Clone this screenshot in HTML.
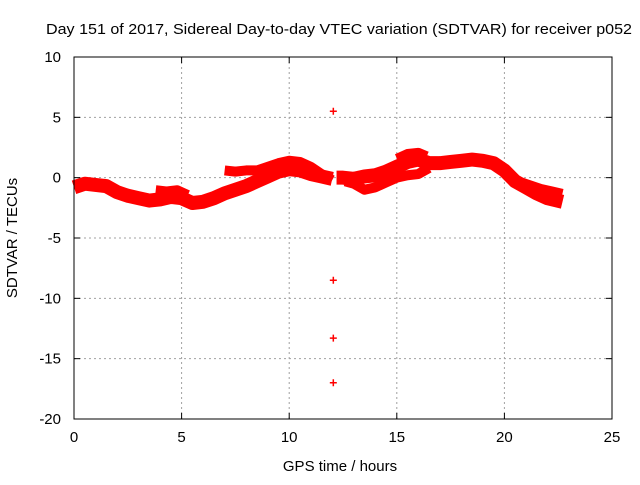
<!DOCTYPE html>
<html><head><meta charset="utf-8"><style>
html,body{margin:0;padding:0;background:#fff;}
svg text{font-family:"Liberation Sans",sans-serif;font-size:15px;fill:#000;}
</style></head><body>
<svg id="chart" width="640" height="480" xmlns="http://www.w3.org/2000/svg">
<text x="339" y="34" text-anchor="middle" textLength="586" lengthAdjust="spacingAndGlyphs">Day 151 of 2017, Sidereal Day-to-day VTEC variation (SDTVAR) for receiver p052</text>
<text x="340" y="471" text-anchor="middle">GPS time / hours</text>
<text transform="translate(17,238) rotate(-90)" text-anchor="middle">SDTVAR / TECUs</text>
<g id="grid"></g>
<g id="marks"></g>
<g id="axes"></g>
</svg>
<script>
const xTicks=[0,5,10,15,20,25];
const yTicks=[10,5,0,-5,-10,-15,-20];
const trackAHours=[0,0.5,1,1.5,2,2.5,3,3.5,4,4.5,5,5.5,6,6.5,7,7.5,8,8.5,9,9.5,10,10.5,11,11.5,12];
const trackAValues=[-0.8,-0.5,-0.6,-0.7,-1.2,-1.5,-1.7,-1.9,-1.8,-1.6,-1.7,-2.1,-2.0,-1.7,-1.3,-1.0,-0.7,-0.3,0.1,0.5,0.7,0.6,0.3,0.1,-0.1];
const trackBHours=[7,7.5,8,8.5,9,9.5,10,10.5,11,11.5,12];
const trackBValues=[0.6,0.5,0.6,0.6,0.9,1.2,1.4,1.3,0.9,0.3,-0.2];
const trackCHours=[3.8,4.3,4.8,5.3];
const trackCValues=[-1.0,-1.1,-1.0,-1.4];
const trackDHours=[12.2,12.5,13,13.5,14,14.5,15,15.5,16,16.5,17,17.5,18,18.5,19,19.5,20,20.5,21,21.5,22,22.7];
const trackDValues=[0.0,0.0,-0.1,0.1,0.2,0.5,0.9,1.3,1.5,1.2,1.2,1.3,1.4,1.5,1.4,1.2,0.6,-0.3,-0.8,-1.3,-1.7,-2.0];
const trackEHours=[12.6,13,13.5,14,14.5,15,15.5,16,16.5];
const trackEValues=[-0.3,-0.5,-1.0,-0.8,-0.4,0.0,0.2,0.3,0.8];
const trackFHours=[15,15.5,16,16.4];
const trackFValues=[1.6,2.0,2.1,1.8];
const trackGHours=[20.2,20.7,21.2,21.7,22.2,22.7];
const trackGValues=[0.2,-0.3,-0.6,-0.9,-1.1,-1.3];
const outlierHours=[12.05,12.05,12.05,12.05];
const outlierValues=[5.5,-8.5,-13.3,-17.0];

const X0=74,X1=612,Y0=57,Y1=419;
const xs=v=>X0+(v-0)/(25-0)*(X1-X0);
const ys=v=>Y1-(v-(-20))/(10-(-20))*(Y1-Y0);
const NS="http://www.w3.org/2000/svg";
function mk(tag,attrs,parent){const e=document.createElementNS(NS,tag);for(const k in attrs)e.setAttribute(k,attrs[k]);parent.appendChild(e);return e;}
const grid=document.getElementById('grid'),marks=document.getElementById('marks'),axes=document.getElementById('axes');
xTicks.forEach(t=>{
  if(t>0&&t<25){const g=mk('line',{x1:xs(t),x2:xs(t),y1:Y0,y2:Y1,stroke:'#a0a0a0','stroke-dasharray':'2,3'},grid);
  
  }
  const l=mk('text',{x:xs(t),y:Y1+23,'text-anchor':'middle'},axes);l.textContent=t;
  
  
  mk('line',{x1:xs(t),x2:xs(t),y1:Y1,y2:Y1-6,stroke:'#000'},axes);
  mk('line',{x1:xs(t),x2:xs(t),y1:Y0,y2:Y0+6,stroke:'#000'},axes);
});
yTicks.forEach(t=>{
  if(t>-20&&t<10){const g=mk('line',{x1:X0,x2:X1,y1:ys(t),y2:ys(t),stroke:'#a0a0a0','stroke-dasharray':'2,3'},grid);
  
  }
  const l=mk('text',{x:X0-13,y:ys(t)+5,'text-anchor':'end'},axes);l.textContent=t;
  
  
  mk('line',{x1:X0,x2:X0+6,y1:ys(t),y2:ys(t),stroke:'#000'},axes);
  mk('line',{x1:X1,x2:X1-6,y1:ys(t),y2:ys(t),stroke:'#000'},axes);
});
const frame=mk('rect',{x:X0,y:Y0,width:X1-X0,height:Y1-Y0,fill:'none',stroke:'#000'},axes);


function track(h,v,w,name){
  const pts=h.map((x,i)=>xs(x)+','+ys(v[i])).join(' ');
  const p=mk('polyline',{points:pts,fill:'none',stroke:'#ff0000','stroke-width':w,'stroke-linejoin':'round','stroke-linecap':'butt'},marks);
  
  
}
track(trackAHours,trackAValues,14,'track-a');
track(trackBHours,trackBValues,10,'track-b');
track(trackCHours,trackCValues,9,'track-c');
track(trackDHours,trackDValues,14,'track-d');
track(trackEHours,trackEValues,10,'track-e');
track(trackFHours,trackFValues,9,'track-f');
track(trackGHours,trackGValues,9,'track-g');
outlierHours.forEach((h,i)=>{
  const cx=xs(h),cy=ys(outlierValues[i]);
  const p=mk('path',{d:`M${cx-3.5},${cy}H${cx+3.5}M${cx},${cy-3.5}V${cy+3.5}`,stroke:'#ff0000','stroke-width':1.5},marks);
  
  
});
</script>
</body></html>
